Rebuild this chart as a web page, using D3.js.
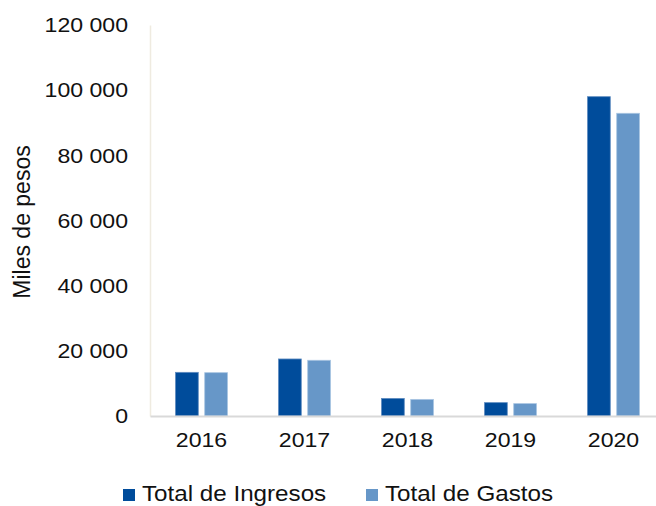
<!DOCTYPE html>
<html>
<head>
<meta charset="utf-8">
<script src="https://cdn.jsdelivr.net/npm/d3@7"></script>
<style>
  html, body { margin: 0; padding: 0; background: #fff; }
  svg { display: block; font-family: "Liberation Sans", Arial, sans-serif; }
</style>
</head>
<body>
<svg id="chart" width="656" height="506"></svg>
<script>
// Annual totals, in thousands of pesos
const years = ["2016", "2017", "2018", "2019", "2020"];
const ingresos = [13400, 17500, 5400, 4100, 98000];
const gastos = [13300, 17100, 5100, 3800, 92900];
const seriesNames = ["Total de Ingresos", "Total de Gastos"];
const yTicks = [0, 20000, 40000, 60000, 80000, 100000, 120000];

const colors = ["#004c9b", "#6797c8"];
const strokes = ["#5f8cc0", "#a9c5e2"];

const svg = d3.select("#chart");
const plotLeft = 150, plotRight = 665, plotTop = 25, plotBottom = 416;
const wide = 1.1; // labels are set slightly wide

const x = d3.scaleBand().domain(years).range([plotLeft, plotRight]);
const y = d3.scaleLinear().domain([0, 120000]).range([plotBottom, plotTop]);
const xs = d3.scaleBand().domain(seriesNames).range([0, 52]).paddingInner(0.22);

const fmt = v => d3.format(",")(v).replace(/,/g, " ");

// value axis
const yAxis = svg.append("g").attr("transform", `translate(${plotLeft},0)`)
  .call(d3.axisLeft(y).tickValues(yTicks).tickSize(0).tickPadding(20).tickFormat(fmt));
yAxis.select(".domain").attr("stroke", "#efebe0").attr("stroke-width", 1.5);
yAxis.selectAll("text").attr("font-size", 21).attr("fill", "#111")
  .attr("font-family", "Liberation Sans, Arial, sans-serif")
  .attr("transform", `scale(${wide},1)`);

// bars
const data = years.map((yr, i) => ({ year: yr, values: [ingresos[i], gastos[i]] }));
const groups = svg.append("g").selectAll("g").data(data).join("g")
  .attr("transform", d => `translate(${x(d.year) + x.bandwidth() / 2 - 26},0)`);
groups.selectAll("rect").data(d => d.values.map((v, k) => ({ v, k })))
  .join("rect")
  .attr("x", d => xs(seriesNames[d.k]))
  .attr("width", xs.bandwidth())
  .attr("y", d => y(d.v))
  .attr("height", d => y(0) - y(d.v))
  .attr("fill", d => colors[d.k])
  .attr("stroke", d => strokes[d.k])
  .attr("stroke-width", 0.8);

// category axis
const xAxis = svg.append("g").attr("transform", `translate(0,${plotBottom})`)
  .call(d3.axisBottom(x).tickSize(0).tickPadding(16));
xAxis.select(".domain").attr("stroke", "#d9d9d9").attr("stroke-width", 2.2);
xAxis.selectAll("text").attr("font-size", 21).attr("fill", "#111")
  .attr("font-family", "Liberation Sans, Arial, sans-serif")
  .attr("transform", `scale(${wide},1)`);

// axis title
svg.append("text")
  .attr("transform", "translate(30,222) rotate(-90) scale(1,1.08)")
  .attr("text-anchor", "middle")
  .attr("font-size", 23)
  .attr("fill", "#111")
  .text("Miles de pesos");

// legend
const legendX = [123, 366];
const legend = svg.append("g").selectAll("g").data(seriesNames).join("g")
  .attr("transform", (d, i) => `translate(${legendX[i]},0)`);
legend.append("rect").attr("x", 0).attr("y", 489).attr("width", 12).attr("height", 12)
  .attr("fill", (d, i) => colors[i]);
legend.append("text")
  .attr("transform", `translate(19,501) scale(${wide},1)`)
  .attr("font-size", 22).attr("fill", "#111").text(d => d);
</script>
</body>
</html>
